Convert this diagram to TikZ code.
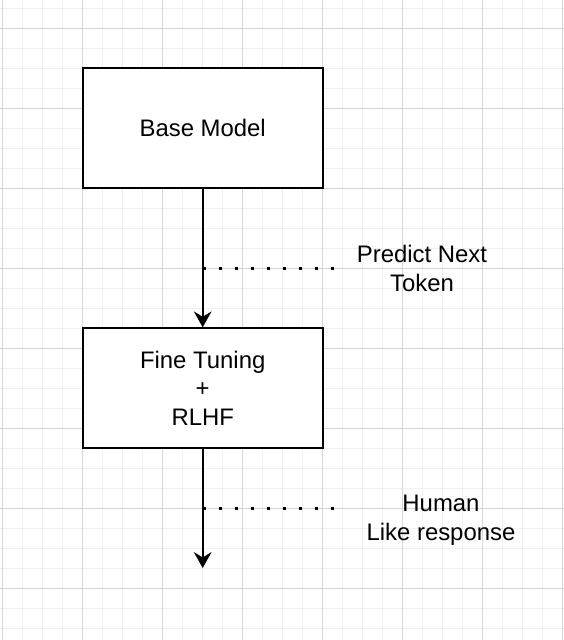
\documentclass[tikz,border=0pt]{standalone}
\usepackage{fontspec}
\setmainfont{Liberation Sans}
\usetikzlibrary{arrows.meta,positioning}
\definecolor{minorgrid}{HTML}{F0F0F0}
\definecolor{majorgrid}{HTML}{D6D6D6}
\tikzset{
    block/.style={draw=black,line width=1.15pt,fill=white,minimum width=4.8cm,minimum height=2.4cm,inner sep=0pt},
    flow/.style={line width=1.15pt,-{Stealth[length=9pt,width=10pt,inset=3pt]}},
    note/.style={line width=1.6pt,dash pattern=on 1.7pt off 7.4pt},
    label/.style={align=center,inner sep=0pt,font=\fontsize{13.6}{16.4}\selectfont}
}
\begin{document}
\begin{tikzpicture}[x=0.02cm,y=-0.02cm]
        \useasboundingbox (0,0) rectangle (564,640);
        % grid
        \foreach \k in {0,...,28} \draw[minorgrid,line width=0.6pt] (2.7+20*\k,0) -- (2.7+20*\k,640);
        \foreach \k in {0,...,31} \draw[minorgrid,line width=0.6pt] (0,8.3+20*\k) -- (564,8.3+20*\k);
        \foreach \k in {0,...,7} \draw[majorgrid,line width=0.6pt] (2.7+80*\k,0) -- (2.7+80*\k,640);
        \foreach \k in {0,...,7} \draw[majorgrid,line width=0.6pt] (0,28.3+80*\k) -- (564,28.3+80*\k);
        % boxes
        \node[block] (base) at (202.7,128.3) {};
        \node[label] (basetext) at (base.center) {Base Model};
        \node[block] (fine) at (202.7,388.3) {};
        \node[label] (finetext) at (fine.center) {Fine Tuning\\+\\RLHF};
        \coordinate (out) at (202.7,568);
        % arrows
        \draw[flow] (base.south) -- (fine.north);
        \draw[flow] (fine.south) -- (out);
        % notes
        \coordinate (n1) at (202.7,268.3);
        \coordinate (n2) at (202.7,508.3);
        \node[label] (predict) at (422,268.5) {Predict Next\\Token};
        \node[label] (human) at (441,520) {Human\\Like response};
        \draw[note] (n1) -- ++(133,0);
        \draw[note] (n2) -- ++(133,0);
    \end{tikzpicture}
\end{document}
